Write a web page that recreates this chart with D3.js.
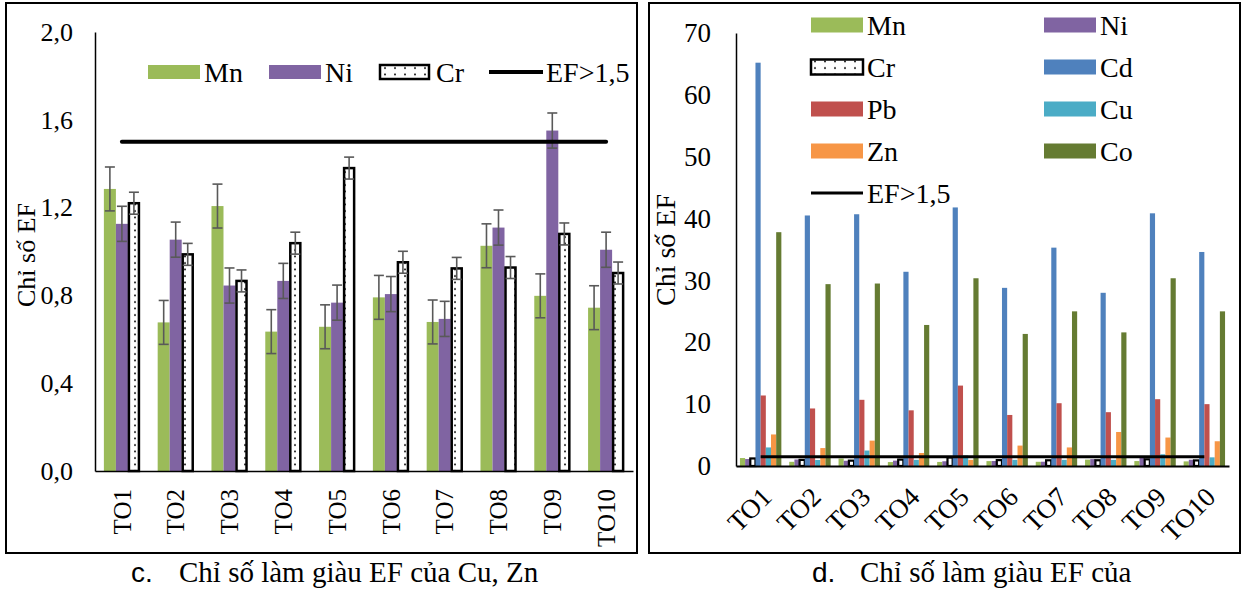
<!DOCTYPE html>
<html>
<head>
<meta charset="utf-8">
<script src="https://cdn.jsdelivr.net/npm/d3@7"></script>
<style>
  body { margin: 0; background: #fff; }
</style>
</head>
<body>
<div id="chart"></div>
<script>
const categories = ["TO1", "TO2", "TO3", "TO4", "TO5", "TO6", "TO7", "TO8", "TO9", "TO10"];

// EF values
const mnEF = [1.285, 0.677, 1.207, 0.635, 0.657, 0.791, 0.679, 1.026, 0.798, 0.744];
const niEF = [1.126, 1.054, 0.845, 0.866, 0.767, 0.806, 0.693, 1.109, 1.551, 1.008];
const crEF = [1.22, 0.987, 0.866, 1.038, 1.38, 0.951, 0.923, 0.927, 1.08, 0.902];
const cdEF = [65.2, 40.5, 40.7, 31.4, 41.8, 28.8, 35.3, 28.0, 40.85, 34.6];
const pbEF = [11.4, 9.3, 10.7, 9.0, 13.0, 8.25, 10.15, 8.7, 10.8, 10.0];
const cuEF = [3.0, 0.97, 2.5, 1.0, 1.7, 1.0, 1.0, 1.0, 1.9, 1.4];
const znEF = [5.1, 2.9, 4.1, 2.1, 1.0, 3.3, 3.0, 5.5, 4.6, 4.0];
const coEF = [37.8, 29.4, 29.5, 22.8, 30.35, 21.35, 25.0, 21.6, 30.35, 25.0];

// error bars (left chart)
const mnErr = [0.1, 0.1, 0.1, 0.1, 0.1, 0.1, 0.1, 0.1, 0.1, 0.1];
const niErr = [0.08, 0.08, 0.08, 0.08, 0.08, 0.08, 0.08, 0.08, 0.08, 0.08];
const crErr = [0.05, 0.05, 0.05, 0.05, 0.05, 0.05, 0.05, 0.05, 0.05, 0.05];

const threshold = 1.5;
const leftTicks = [0, 0.4, 0.8, 1.2, 1.6, 2.0];
const rightTicks = [0, 10, 20, 30, 40, 50, 60, 70];

const colors = {
    Mn: "#9BBB59", Ni: "#8064A2", Cr: "url(#dots)", Cd: "#4F81BD",
    Pb: "#C0504D", Cu: "#4BACC6", Zn: "#F79646", Co: "#657B32"
};

const serif = "'Liberation Serif', 'Times New Roman', Tinos, 'DejaVu Serif', serif";
const sans = "'Liberation Sans', Arial, sans-serif";

const svg = d3.select("#chart").append("svg")
    .attr("width", 1244)
    .attr("height", 594);

const pat = svg.append("defs").append("pattern")
    .attr("id", "dots")
    .attr("patternUnits", "userSpaceOnUse")
    .attr("width", 10)
    .attr("height", 6.5);
pat.append("rect").attr("width", 10).attr("height", 6.5).attr("fill", "#fff");
pat.append("circle").attr("cx", 5).attr("cy", 3).attr("r", 1).attr("fill", "#000");

const comma = d => d3.format(".1f")(d).replace(".", ",");

// ---------- left chart ----------
const leftSeries = [
    {key: "Mn", values: mnEF, err: mnErr},
    {key: "Ni", values: niEF, err: niErr},
    {key: "Cr", values: crEF, err: crErr}
];

const x0L = d3.scaleBand().domain(categories).range([95, 633])
    .paddingInner(0.33).paddingOuter(0.165);
const x1L = d3.scaleBand().domain(leftSeries.map(s => s.key)).range([0, x0L.bandwidth()]);
const yL = d3.scaleLinear().domain([0, 2]).range([471, 32]);

const gL = svg.append("g");

leftSeries.forEach(s => {
    gL.append("g").selectAll("rect")
        .data(s.values)
        .enter()
        .append("rect")
        .attr("x", (d, i) => x0L(categories[i]) + x1L(s.key) + (s.key === "Cr" ? 1 : 0))
        .attr("y", d => yL(d))
        .attr("width", x1L.bandwidth() - (s.key === "Cr" ? 2 : 0))
        .attr("height", d => yL(0) - yL(d))
        .attr("fill", colors[s.key])
        .attr("stroke", s.key === "Cr" ? "#000" : "none")
        .attr("stroke-width", 2.5);
});

leftSeries.forEach(s => {
    const eb = gL.append("g").attr("stroke", "#595959").attr("stroke-width", 1.6);
    s.values.forEach((v, i) => {
        const cx = x0L(categories[i]) + x1L(s.key) + x1L.bandwidth() / 2;
        const lo = yL(v - s.err[i]), hi = yL(v + s.err[i]);
        eb.append("line").attr("x1", cx).attr("x2", cx).attr("y1", lo).attr("y2", hi);
        eb.append("line").attr("x1", cx - 5).attr("x2", cx + 5).attr("y1", lo).attr("y2", lo);
        eb.append("line").attr("x1", cx - 5).attr("x2", cx + 5).attr("y1", hi).attr("y2", hi);
    });
});

gL.append("line")
    .attr("x1", x0L(categories[0]) + x0L.bandwidth() / 2)
    .attr("x2", x0L(categories[categories.length - 1]) + x0L.bandwidth() / 2)
    .attr("y1", yL(threshold)).attr("y2", yL(threshold))
    .attr("stroke", "#000").attr("stroke-width", 4).attr("stroke-linecap", "round");

const yAxisL = gL.append("g")
    .attr("transform", "translate(95,0)")
    .call(d3.axisLeft(yL).tickValues(leftTicks).tickSize(0).tickPadding(22).tickFormat(comma));
yAxisL.select(".domain").attr("stroke", "#000").attr("stroke-width", 1.5);
yAxisL.selectAll("text").attr("font-size", 26);

const xAxisL = gL.append("g")
    .attr("transform", "translate(0,471)")
    .call(d3.axisBottom(x0L).tickSize(0));
xAxisL.select(".domain").attr("stroke", "#000").attr("stroke-width", 1.5);
xAxisL.selectAll("text")
    .attr("font-size", 25)
    .attr("transform", "rotate(-90)")
    .attr("x", -18).attr("y", 0).attr("dy", "0.35em")
    .style("text-anchor", "end");

gL.append("text")
    .attr("transform", "translate(35,255) rotate(-90)")
    .attr("text-anchor", "middle")
    .attr("font-size", 26)
    .text("Chỉ số EF");

const legL = [
    {key: "Mn", x: 148}, {key: "Ni", x: 269}, {key: "Cr", x: 380}, {key: "EF>1,5", x: 489}
];
legL.forEach(l => {
    if (l.key === "EF>1,5") {
        gL.append("line").attr("x1", l.x).attr("x2", l.x + 54).attr("y1", 72).attr("y2", 72)
            .attr("stroke", "#000").attr("stroke-width", 4);
    } else {
        gL.append("rect").attr("x", l.x).attr("y", 65).attr("width", l.key === "Cr" ? 49 : 52).attr("height", 14)
            .attr("fill", colors[l.key])
            .attr("stroke", l.key === "Cr" ? "#000" : "none").attr("stroke-width", 2.5);
    }
    gL.append("text").attr("x", l.x + (l.key === "EF>1,5" ? 57 : 56)).attr("y", 72).attr("dy", "0.35em")
        .attr("font-size", 28).text(l.key);
});

// ---------- right chart ----------
const rightSeries = [
    {key: "Mn", values: mnEF}, {key: "Ni", values: niEF}, {key: "Cr", values: crEF},
    {key: "Cd", values: cdEF}, {key: "Pb", values: pbEF}, {key: "Cu", values: cuEF},
    {key: "Zn", values: znEF}, {key: "Co", values: coEF}
];

const x0R = d3.scaleBand().domain(categories).range([736, 1229])
    .paddingInner(0.16).paddingOuter(0.08);
const x1R = d3.scaleBand().domain(rightSeries.map(s => s.key)).range([0, x0R.bandwidth()]);
const yR = d3.scaleLinear().domain([0, 70]).range([466, 33]);

const gR = svg.append("g");

rightSeries.forEach(s => {
    gR.append("g").selectAll("rect")
        .data(s.values)
        .enter()
        .append("rect")
        .attr("x", (d, i) => x0R(categories[i]) + x1R(s.key))
        .attr("y", d => yR(d))
        .attr("width", x1R.bandwidth())
        .attr("height", d => yR(0) - yR(d))
        .attr("fill", s.key === "Cr" ? "#fff" : colors[s.key])
        .attr("stroke", s.key === "Cr" ? "#000" : "none")
        .attr("stroke-width", 2.2);
});

gR.append("line")
    .attr("x1", x0R(categories[0]) + x0R.bandwidth() / 2)
    .attr("x2", x0R(categories[categories.length - 1]) + x0R.bandwidth() / 2)
    .attr("y1", yR(threshold)).attr("y2", yR(threshold))
    .attr("stroke", "#000").attr("stroke-width", 3);

const yAxisR = gR.append("g")
    .attr("transform", "translate(736,0)")
    .call(d3.axisLeft(yR).tickValues(rightTicks).tickSize(0).tickPadding(25));
yAxisR.select(".domain").attr("stroke", "#000").attr("stroke-width", 1.5);
yAxisR.selectAll("text").attr("font-size", 27);

const xAxisR = gR.append("g")
    .attr("transform", "translate(0,466)")
    .call(d3.axisBottom(x0R).tickSize(0));
xAxisR.select(".domain").attr("stroke", "#000").attr("stroke-width", 2);
xAxisR.selectAll("text")
    .attr("font-size", 27)
    .attr("transform", "translate(6,26) rotate(-45)")
    .attr("x", 0).attr("y", 0).attr("dy", "0.35em")
    .style("text-anchor", "end");

gR.append("text")
    .attr("transform", "translate(675,250) rotate(-90)")
    .attr("text-anchor", "middle")
    .attr("font-size", 28)
    .text("Chỉ số EF");

const legR = ["Mn", "Ni", "Cr", "Cd", "Pb", "Cu", "Zn", "Co", "EF>1,5"];
legR.forEach((k, i) => {
    const lx = i % 2 === 0 ? 811 : 1044;
    const ly = 25 + Math.floor(i / 2) * 42;
    if (k === "EF>1,5") {
        gR.append("line").attr("x1", lx).attr("x2", lx + 52).attr("y1", ly).attr("y2", ly)
            .attr("stroke", "#000").attr("stroke-width", 3);
    } else {
        gR.append("rect").attr("x", lx).attr("y", ly - 7.5).attr("width", 52).attr("height", 15)
            .attr("fill", colors[k])
            .attr("stroke", k === "Cr" ? "#000" : "none").attr("stroke-width", 2.5);
    }
    gR.append("text").attr("x", lx + 56).attr("y", ly).attr("dy", "0.35em")
        .attr("font-size", 28).text(k);
});

// panel frames and captions
svg.append("rect").attr("x", 6).attr("y", 3).attr("width", 631).attr("height", 550)
    .attr("fill", "none").attr("stroke", "#000").attr("stroke-width", 2);
svg.append("rect").attr("x", 649).attr("y", 3).attr("width", 591).attr("height", 550)
    .attr("fill", "none").attr("stroke", "#000").attr("stroke-width", 2);

const captions = [
    {label: "c.", lx: 131, tx: 179, text: "Chỉ số làm giàu EF của Cu, Zn"},
    {label: "d.", lx: 812, tx: 860, text: "Chỉ số làm giàu EF của"}
];
captions.forEach(c => {
    svg.append("text").attr("class", "lbl").attr("x", c.lx).attr("y", 582).attr("font-size", 28).text(c.label);
    svg.append("text").attr("x", c.tx).attr("y", 582).attr("font-size", 29).text(c.text);
});

// all text in a Times-like face, caption letters in Arial
svg.selectAll("text").style("font-family", serif).style("fill", "#000");
svg.selectAll("text.lbl").style("font-family", sans);
</script>
</body>
</html>
